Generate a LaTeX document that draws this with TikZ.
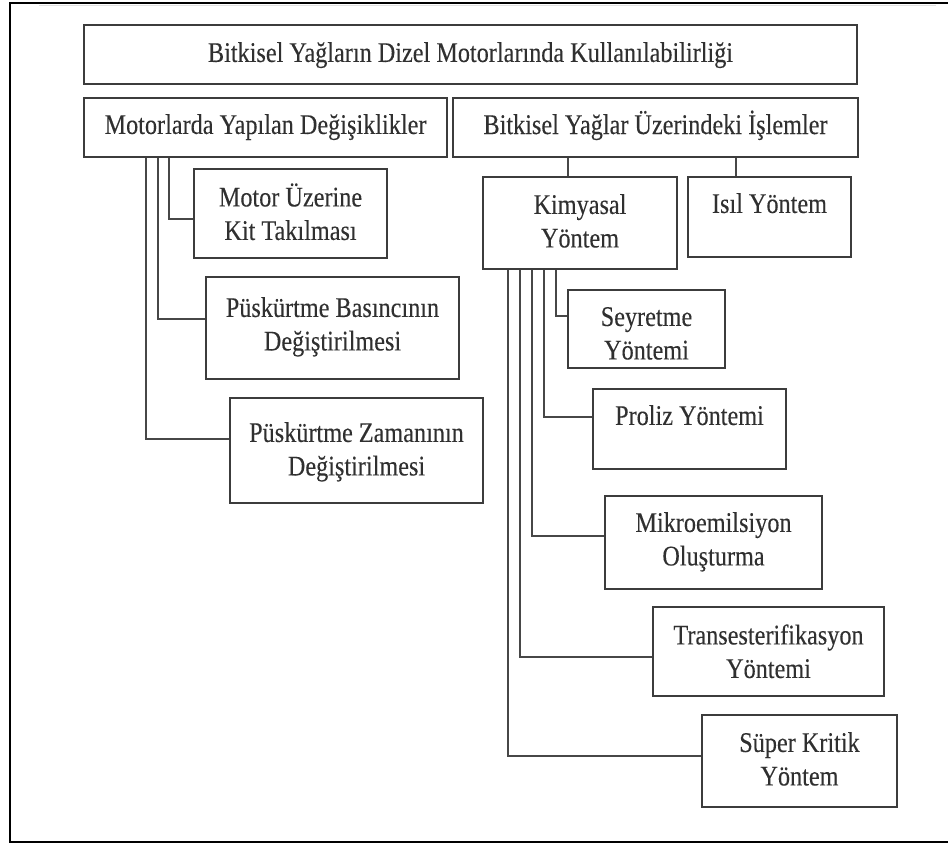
\documentclass[tikz,border=0pt]{standalone}
\usepackage{fontspec}
\setmainfont{Liberation Serif}[FakeStretch=0.85, FakeBold=0.2]
\definecolor{boxgray}{HTML}{3C3C3C}
\definecolor{linegray}{HTML}{474747}
\definecolor{inkgray}{HTML}{303030}
\begin{document}
\begin{tikzpicture}[x=1pt,y=-1pt,
  box/.style={draw=boxgray, line width=1.4pt, inner sep=0pt},
  lbl/.style={inner sep=0pt, align=center, anchor=north, text=inkgray,
              font=\fontsize{28.5}{33.5}\selectfont},
  link/.style={draw=linegray, line width=1.2pt},
  frameline/.style={line width=2.6pt, black, line join=miter}]
\useasboundingbox (0,0) rectangle (948,843);

% page frame, open on the right
\draw[frameline] (948,3) -- (10,3) -- (10,842) -- (948,842);
\draw[black!12, line width=1pt] (39,6) -- (936,6);

% boxes
\node[box, minimum width=773pt, minimum height=59pt] (title) at (470.5,54.5) {};
\node[box, minimum width=363pt, minimum height=59pt] (mot) at (265.5,127.5) {};
\node[box, minimum width=405pt, minimum height=59pt] (bit) at (655.5,127.5) {};
\node[box, minimum width=193pt, minimum height=89pt] (kit) at (290.5,213.5) {};
\node[box, minimum width=253pt, minimum height=102pt] (bas) at (332.5,328) {};
\node[box, minimum width=253pt, minimum height=105pt] (zam) at (356.5,450.5) {};
\node[box, minimum width=194pt, minimum height=92pt] (kim) at (580,223) {};
\node[box, minimum width=163pt, minimum height=80pt] (isil) at (769.5,217) {};
\node[box, minimum width=157pt, minimum height=78pt] (sey) at (646.5,329) {};
\node[box, minimum width=193pt, minimum height=80pt] (pro) at (689.5,429) {};
\node[box, minimum width=217pt, minimum height=93pt] (mik) at (713.5,542.5) {};
\node[box, minimum width=231pt, minimum height=89pt] (tra) at (768.5,651.5) {};
\node[box, minimum width=195pt, minimum height=92pt] (sup) at (799.5,761) {};

% box texts
\node[lbl] (titleT) at ([yshift=-14pt]title.north) {Bitkisel Yağların Dizel Motorlarında Kullanılabilirliği\strut};
\node[lbl] (motT) at ([yshift=-13pt]mot.north) {Motorlarda Yapılan Değişiklikler\strut};
\node[lbl] (bitT) at ([yshift=-13pt]bit.north) {Bitkisel Yağlar Üzerindeki İşlemler\strut};
\node[lbl] (kitT) at ([yshift=-14.5pt]kit.north) {Motor Üzerine\strut\\Kit Takılması\strut};
\node[lbl] (basT) at ([yshift=-17pt]bas.north) {Püskürtme Basıncının\strut\\Değiştirilmesi\strut};
\node[lbl] (zamT) at ([yshift=-21pt]zam.north) {Püskürtme Zamanının\strut\\Değiştirilmesi\strut};
\node[lbl] (kimT) at ([yshift=-14pt]kim.north) {Kimyasal\strut\\Yöntem\strut};
\node[lbl] (isilT) at ([yshift=-13pt]isil.north) {Isıl Yöntem\strut};
\node[lbl] (seyT) at ([yshift=-13pt]sey.north) {Seyretme\strut\\Yöntemi\strut};
\node[lbl] (proT) at ([yshift=-13pt]pro.north) {Proliz Yöntemi\strut};
\node[lbl] (mikT) at ([yshift=-13pt]mik.north) {Mikroemilsiyon\strut\\Oluşturma\strut};
\node[lbl] (traT) at ([yshift=-14.5pt]tra.north) {Transesterifikasyon\strut\\Yöntemi\strut};
\node[lbl] (supT) at ([yshift=-14pt]sup.north) {Süper Kritik\strut\\Yöntem\strut};

% engine modifications
\draw[link] (mot.south -| 169,0) |- (kit.west |- 0,219);
\draw[link] (mot.south -| 158,0) |- (bas.west |- 0,319);
\draw[link] (mot.south -| 146,0) |- (zam.west |- 0,439);

% oil treatments
\draw[link] (bit.south -| 568,0) -- (kim.north -| 568,0);
\draw[link] (bit.south -| 736,0) -- (isil.north -| 736,0);

% chemical methods
\draw[link] (kim.south -| 556,0) |- (sey.west |- 0,316);
\draw[link] (kim.south -| 544,0) |- (pro.west |- 0,417);
\draw[link] (kim.south -| 532,0) |- (mik.west |- 0,536);
\draw[link] (kim.south -| 520,0) |- (tra.west |- 0,657);
\draw[link] (kim.south -| 508,0) |- (sup.west |- 0,756);
\end{tikzpicture}
\end{document}
